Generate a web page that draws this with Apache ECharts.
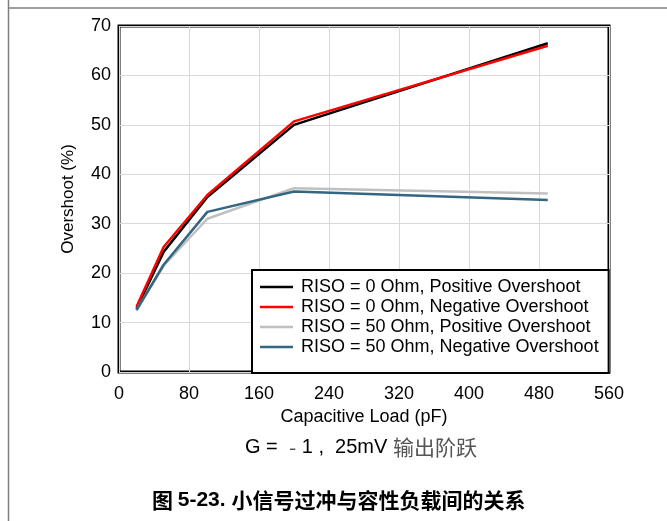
<!DOCTYPE html>
<html>
<head>
<meta charset="utf-8">
<script src="https://cdn.jsdelivr.net/npm/echarts@6/dist/echarts.min.js"></script>
<style>html,body{margin:0;padding:0;background:#fff;}#c{width:667px;height:521px;}</style>
</head>
<body>
<div id="c"></div>
<script>
var capLoad = [20, 51, 101, 200, 490];
var riso0Pos = [12.8, 24.3, 35.4, 50.0, 66.5];
var riso0Neg = [13.2, 25.3, 35.8, 50.7, 66.0];
var riso50Pos = [12.5, 21.5, 31.0, 37.2, 36.1];
var riso50Neg = [12.5, 21.7, 32.4, 36.5, 34.8];
var seriesNames = ['RISO = 0 Ohm, Positive Overshoot', 'RISO = 0 Ohm, Negative Overshoot', 'RISO = 50 Ohm, Positive Overshoot', 'RISO = 50 Ohm, Negative Overshoot'];
var seriesColors = ['#000000', '#ff0000', '#c0c0c0', '#336680'];
var seriesValues = [riso0Pos, riso0Neg, riso50Pos, riso50Neg];

function pairs(vals) { return capLoad.map(function (x, i) { return [x, vals[i]]; }); }

var chart = echarts.init(document.getElementById('c'), null, {renderer: 'canvas'});
var font = '"Liberation Sans", Arial, sans-serif';
var cjk = '"Noto Sans CJK SC", sans-serif';
chart.setOption({
  animation: false,
  backgroundColor: '#fff',
  grid: {left: 119, right: 58, top: 26, bottom: 149, show: true, borderColor: '#000', borderWidth: 3, backgroundColor: 'transparent'},
  xAxis: {
    type: 'value', min: 0, max: 560, interval: 80,
    name: 'Capacitive Load (pF)', nameLocation: 'middle', nameGap: 26,
    nameTextStyle: {fontFamily: font, fontSize: 18, color: '#000'},
    axisLine: {show: false}, axisTick: {show: false},
    axisLabel: {fontFamily: font, fontSize: 18, color: '#000', margin: 13},
    splitLine: {show: true, lineStyle: {color: '#d9d9d9', width: 1}}
  },
  yAxis: {
    type: 'value', min: 0, max: 70, interval: 10,
    name: 'Overshoot (%)', nameLocation: 'middle', nameGap: 42,
    nameTextStyle: {fontFamily: font, fontSize: 17, color: '#000'},
    axisLine: {show: false}, axisTick: {show: false},
    axisLabel: {fontFamily: font, fontSize: 18, color: '#000', margin: 8},
    splitLine: {show: true, lineStyle: {color: '#d9d9d9', width: 1}}
  },
  legend: {
    orient: 'vertical', left: 252, top: 270,
    backgroundColor: '#fff', borderColor: '#000', borderWidth: 2,
    padding: [8, 10, 17, 8], itemGap: 2,
    itemWidth: 33, itemHeight: 14,
    textStyle: {fontFamily: font, fontSize: 18, color: '#000', padding: [0, 0, 0, 3]},
    data: seriesNames.map(function (n) { return {name: n, icon: 'path://M0,6 L33,6 L33,8.5 L0,8.5 Z'}; })
  },
  series: seriesNames.map(function (n, i) {
    return {
      name: n, type: 'line', data: pairs(seriesValues[i]),
      symbol: 'none', color: seriesColors[i],
      lineStyle: {color: seriesColors[i], width: 2.5}, z: 2 + i
    };
  }),
  graphic: [
    {type: 'line', shape: {x1: 8.5, y1: 0, x2: 8.5, y2: 521}, style: {stroke: '#7f7f7f', lineWidth: 1.5}, silent: true},
    {type: 'line', shape: {x1: 8, y1: 8, x2: 667, y2: 8}, style: {stroke: '#7f7f7f', lineWidth: 1.5}, silent: true},
    {type: 'text', left: 245, top: 437, style: {
      text: '{a|G =  }{b|-}{a| 1 ,  25mV }{b|输出阶跃}',
      rich: {
        a: {fontFamily: font, fontSize: 20, fill: '#000'},
        b: {fontFamily: cjk, fontSize: 21, fill: '#555'}
      }
    }},
    {type: 'text', left: 152, top: 490, style: {
      text: '{c|图 }{d|5-23. }{c|小信号过冲与容性负载间的关系}',
      rich: {
        c: {fontFamily: cjk, fontWeight: 'bold', fontSize: 21, fill: '#000'},
        d: {fontFamily: font, fontWeight: 'bold', fontSize: 21, fill: '#000'}
      }
    }}
  ]
});
</script>
</body>
</html>
